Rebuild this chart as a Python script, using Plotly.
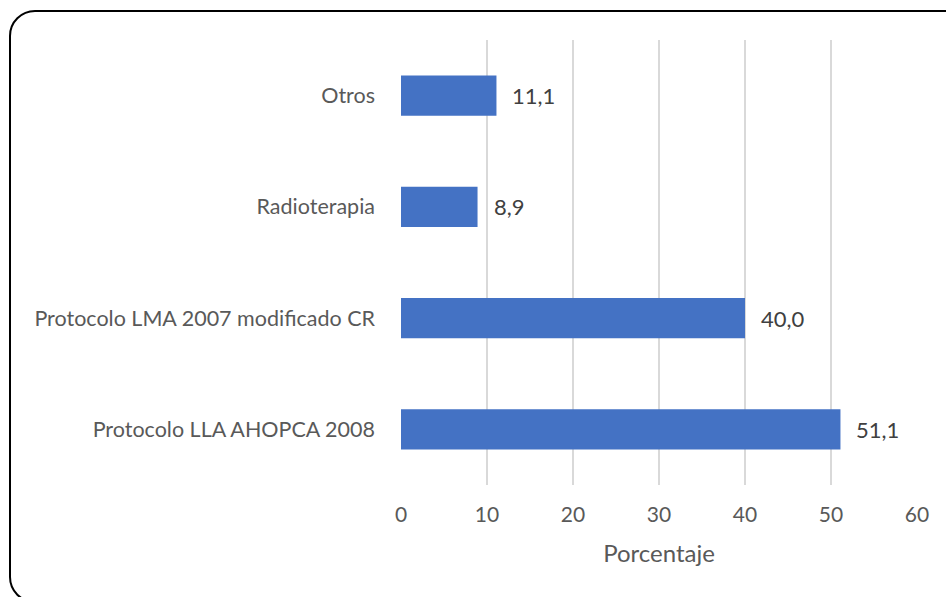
import plotly.graph_objects as go

categories = ["Protocolo LLA AHOPCA 2008", "Protocolo LMA 2007 modificado CR", "Radioterapia", "Otros"]
values = [51.1, 40.0, 8.9, 11.1]
labels = ["51,1", "40,0", "8,9", "11,1"]
x_ticks = [0, 10, 20, 30, 40, 50, 60]

W, H = 946, 597
L, R, T, B = 401, 917, 40, 485

def px2paper(x, y):
    return (x - L) / (R - L), (B - y) / (B - T)

fig = go.Figure()
fig.add_trace(go.Bar(
    y=categories, x=values, orientation="h",
    marker=dict(color="#4472C4", line=dict(width=0)),
    width=0.36, hoverinfo="skip",
))

for c, v, t in zip(categories, values, labels):
    fig.add_annotation(x=v, y=c, text=t, showarrow=False, xanchor="left",
                       xshift=14, font=dict(family="Lato", size=22, color="#404040"))

# rounded border
x0, y0, x1, y1, r = 10, 11, 975, 602, 25
k = r * (1 - 0.5523)
def P(x, y):
    a, b = px2paper(x, y)
    return f"{a:.5f},{b:.5f}"
path = (f"M {P(x0+r, y0)} L {P(x1-r, y0)} C {P(x1-k, y0)} {P(x1, y0+k)} {P(x1, y0+r)} "
        f"L {P(x1, y1-r)} C {P(x1, y1-k)} {P(x1-k, y1)} {P(x1-r, y1)} L {P(x0+r, y1)} "
        f"C {P(x0+k, y1)} {P(x0, y1-k)} {P(x0, y1-r)} L {P(x0, y0+r)} "
        f"C {P(x0, y0+k)} {P(x0+k, y0)} {P(x0+r, y0)} Z")
fig.add_shape(type="path", xref="paper", yref="paper", path=path,
              line=dict(color="black", width=2), fillcolor="rgba(0,0,0,0)", layer="below")

fig.update_layout(
    width=W, height=H,
    margin=dict(l=L, r=W - R, t=T, b=H - B),
    plot_bgcolor="white", paper_bgcolor="white",
    showlegend=False,
    font=dict(family="Lato", size=21, color="#595959"),
    xaxis=dict(range=[0, 60], tickvals=x_ticks, showgrid=True, gridcolor="#D9D9D9",
               gridwidth=1.5, zeroline=False, showline=False, ticks="",
               ticklabelstandoff=15,
               title=dict(text="Porcentaje", font=dict(size=24, color="#595959"), standoff=20),
               tickfont=dict(size=21, color="#595959"), fixedrange=True),
    yaxis=dict(showgrid=False, zeroline=False, showline=False, ticks="",
               ticklabelstandoff=25, tickfont=dict(size=21.5, color="#595959"), fixedrange=True),
    bargap=0.64,
)

fig.write_html("out.html", config={"displayModeBar": False},
               post_script="document.body.style.margin='0px';")
